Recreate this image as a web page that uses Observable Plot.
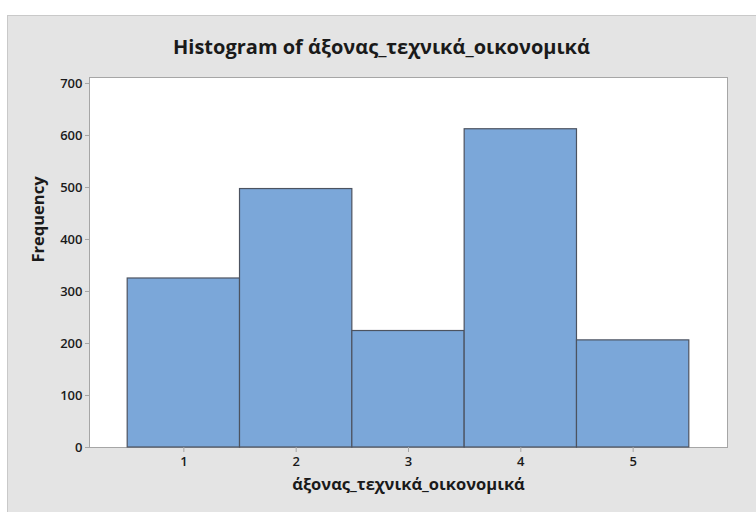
<!DOCTYPE html>
<html>
<head>
<meta charset="utf-8">
<script src="https://cdn.jsdelivr.net/npm/d3@7"></script>
<script src="https://cdn.jsdelivr.net/npm/@observablehq/plot@0.6"></script>
<style>
  html, body { margin: 0; padding: 0; background: #ffffff; }
  #wrap { position: relative; width: 756px; height: 512px; overflow: hidden; }
  #panel { position: absolute; left: 7px; top: 15px; width: 760px; height: 510px;
           background: #e4e4e4; border: 1px solid #c9c9c9; box-sizing: border-box; }
  #title { position: absolute; left: 7px; width: 749px; top: 33px; text-align: center;
           font-family: "Open Sans", sans-serif; font-weight: 700; font-size: 20px; color: #1a1a1a; line-height: 28px; }
  #chart { position: absolute; left: 0; top: 0; }
</style>
</head>
<body>
<div id="wrap">
  <div id="panel"></div>
  <div id="title">Histogram of άξονας_τεχνικά_οικονομικά</div>
  <div id="chart"></div>
</div>
<script>
const bins = [1, 2, 3, 4, 5];
const counts = [325, 497, 224, 612, 206];
const yTicks = [0, 100, 200, 300, 400, 500, 600, 700];
const xTitle = "άξονας_τεχνικά_οικονομικά";
const yTitle = "Frequency";

const data = bins.map((b, i) => ({x1: b - 0.5, x2: b + 0.5, y: counts[i]}));

const chart = Plot.plot({
  width: 756,
  height: 512,
  marginLeft: 89,
  marginRight: 29,
  marginTop: 77,
  marginBottom: 65,
  style: {background: "transparent", fontFamily: "Open Sans, sans-serif"},
  x: {domain: [0.16, 5.84]},
  y: {domain: [0, 711.5]},
  marks: [
    Plot.frame({fill: "#ffffff", stroke: "#a6a6a6"}),
    Plot.rectY(data, {x1: "x1", x2: "x2", y: "y", fill: "#7ba7d9", stroke: "#4c5360", strokeWidth: 1.2, inset: 0}),
    Plot.axisX({ticks: bins, tickFormat: d3.format("d"), tickSize: 5, tickPadding: 4, stroke: "#a6a6a6", fill: "#1a1a1a", fontSize: 13, fontWeight: 600, label: null}),
    Plot.axisY({ticks: yTicks, tickFormat: d3.format("d"), tickSize: 4, tickPadding: 3, stroke: "#a6a6a6", fill: "#1a1a1a", fontSize: 13, fontWeight: 600, label: null}),
    Plot.text([xTitle], {frameAnchor: "bottom", dy: 42, text: d => d, fontSize: 16.5, fontWeight: 700, fill: "#1a1a1a"}),
    Plot.text([yTitle], {frameAnchor: "left", dx: -51, rotate: -90, text: d => d, fontSize: 16.5, fontWeight: 700, fill: "#1a1a1a"})
  ]
});
document.getElementById("chart").appendChild(chart);
</script>
</body>
</html>
